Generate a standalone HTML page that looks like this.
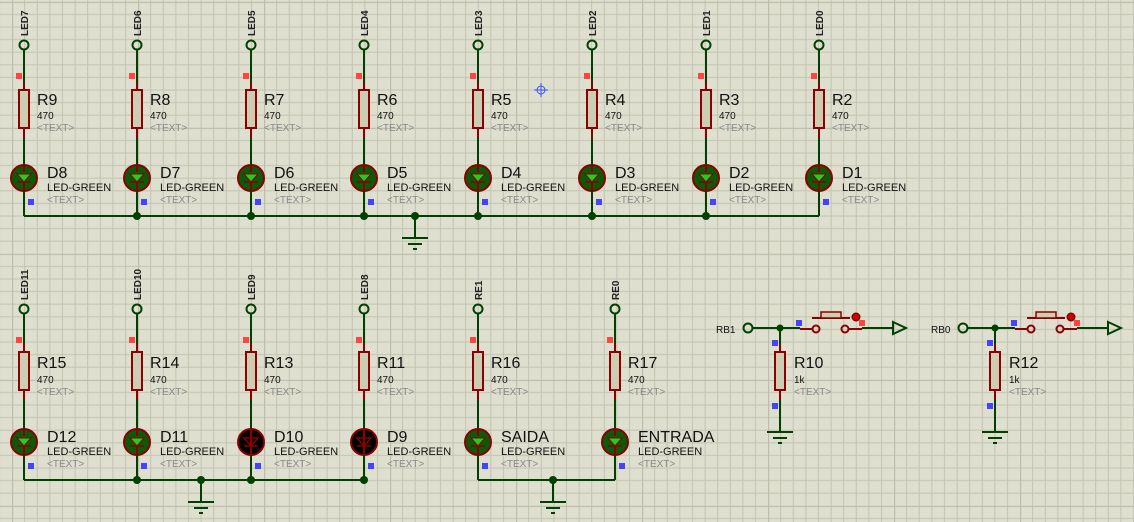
<!DOCTYPE html>
<html><head><style>
html,body{margin:0;padding:0;background:#dfdfd0;}
svg{display:block;font-family:"Liberation Sans",sans-serif;}
.w{stroke:#004000;stroke-width:2;fill:none}
.r{stroke:#8b0000;stroke-width:2;fill:none}
.t{fill:#888;font-size:10px}
.lg{font-size:11px;fill:#111}
</style></head><body>
<svg width="1134" height="522" viewBox="0 0 1134 522" xmlns="http://www.w3.org/2000/svg">
<defs>
<pattern id="g" x="12.1" y="1.8" width="126" height="126" patternUnits="userSpaceOnUse">
<path d="M12.6 0V126M25.2 0V126M37.8 0V126M50.4 0V126M63 0V126M75.6 0V126M88.2 0V126M100.8 0V126M113.4 0V126M0 12.6H126M0 25.2H126M0 37.8H126M0 50.4H126M0 63H126M0 75.6H126M0 88.2H126M0 100.8H126M0 113.4H126" stroke="#c3c3b1" stroke-width="1" fill="none"/>
<path d="M0 0H126M0 0V126" stroke="#bbbba9" stroke-width="2.2" fill="none"/>
</pattern>
<g id="res">
<line class="r" x1="0" y1="-8" x2="0" y2="0"/>
<rect x="-5" y="0" width="10" height="38" fill="#cdcdb3" stroke="#8b0000" stroke-width="2"/>
<line class="r" x1="0" y1="38" x2="0" y2="48"/>
</g>
<g id="ledg">
<circle r="13" fill="#0a5a0a" stroke="#8b0000" stroke-width="2"/>
<polygon points="-7,-4 7,-4 0,4" fill="#22cc22" stroke="#8b0000" stroke-width="1"/>
<line x1="-7" y1="4" x2="7" y2="4" stroke="#8b0000" stroke-width="1.5"/>
<line x1="0" y1="-13" x2="0" y2="-6" stroke="#8b0000" stroke-width="2"/>
<line x1="0" y1="4" x2="0" y2="13" stroke="#8b0000" stroke-width="2"/>
</g>
<g id="ledb">
<circle r="13" fill="#000" stroke="#8b0000" stroke-width="2"/>
<polygon points="-7,-4 7,-4 0,4" fill="#000" stroke="#8b0000" stroke-width="1.5"/>
<line x1="-7" y1="4" x2="7" y2="4" stroke="#8b0000" stroke-width="1.5"/>
<line x1="0" y1="-13" x2="0" y2="4" stroke="#8b0000" stroke-width="2"/>
<line x1="0" y1="4" x2="0" y2="13" stroke="#8b0000" stroke-width="2"/>
</g>
<g id="gnd">
<line class="w" x1="0" y1="0" x2="0" y2="22"/>
<line class="w" x1="-13" y1="22" x2="13" y2="22"/>
<line class="w" x1="-7" y1="28" x2="7" y2="28"/>
<line class="w" x1="-2" y1="33" x2="2" y2="33"/>
</g>
</defs>
<rect width="1134" height="522" fill="url(#g)"/>

<line class="w" x1="24" y1="216" x2="819" y2="216"/>
<g transform="translate(415,216)"><use href="#gnd"/><circle r="4" fill="#004000"/></g>

<g transform="translate(24,0)">
<text transform="translate(4,36) rotate(-90)" font-size="10" font-weight="bold" fill="#222">LED7</text>
<circle cx="0" cy="45" r="4.5" fill="none" stroke="#004000" stroke-width="2"/>
<line class="w" x1="0" y1="50" x2="0" y2="82"/><rect x="-8" y="73" width="6" height="6" fill="#f44"/>
<g transform="translate(0,90)"><use href="#res"/></g>
<line class="w" x1="0" y1="138" x2="0" y2="165"/>
<g transform="translate(0,178)"><use href="#ledg"/></g>
<line class="w" x1="0" y1="191" x2="0" y2="216"/><rect x="4" y="199" width="6" height="6" fill="#44f"/>
<text x="13" y="105" font-size="16" fill="#111">R9</text><text x="13" y="119" font-size="10" fill="#111">470</text><text x="13" y="131" class="t">&lt;TEXT&gt;</text>
<text x="23" y="178" font-size="16" fill="#111">D8</text><text x="23" y="191" class="lg">LED-GREEN</text><text x="23" y="203" class="t">&lt;TEXT&gt;</text>
</g>
<g transform="translate(137,0)">
<text transform="translate(4,36) rotate(-90)" font-size="10" font-weight="bold" fill="#222">LED6</text>
<circle cx="0" cy="45" r="4.5" fill="none" stroke="#004000" stroke-width="2"/>
<line class="w" x1="0" y1="50" x2="0" y2="82"/><rect x="-8" y="73" width="6" height="6" fill="#f44"/>
<g transform="translate(0,90)"><use href="#res"/></g>
<line class="w" x1="0" y1="138" x2="0" y2="165"/>
<g transform="translate(0,178)"><use href="#ledg"/></g>
<line class="w" x1="0" y1="191" x2="0" y2="216"/><rect x="4" y="199" width="6" height="6" fill="#44f"/><circle cy="216" r="4" fill="#004000"/>
<text x="13" y="105" font-size="16" fill="#111">R8</text><text x="13" y="119" font-size="10" fill="#111">470</text><text x="13" y="131" class="t">&lt;TEXT&gt;</text>
<text x="23" y="178" font-size="16" fill="#111">D7</text><text x="23" y="191" class="lg">LED-GREEN</text><text x="23" y="203" class="t">&lt;TEXT&gt;</text>
</g>
<g transform="translate(251,0)">
<text transform="translate(4,36) rotate(-90)" font-size="10" font-weight="bold" fill="#222">LED5</text>
<circle cx="0" cy="45" r="4.5" fill="none" stroke="#004000" stroke-width="2"/>
<line class="w" x1="0" y1="50" x2="0" y2="82"/><rect x="-8" y="73" width="6" height="6" fill="#f44"/>
<g transform="translate(0,90)"><use href="#res"/></g>
<line class="w" x1="0" y1="138" x2="0" y2="165"/>
<g transform="translate(0,178)"><use href="#ledg"/></g>
<line class="w" x1="0" y1="191" x2="0" y2="216"/><rect x="4" y="199" width="6" height="6" fill="#44f"/><circle cy="216" r="4" fill="#004000"/>
<text x="13" y="105" font-size="16" fill="#111">R7</text><text x="13" y="119" font-size="10" fill="#111">470</text><text x="13" y="131" class="t">&lt;TEXT&gt;</text>
<text x="23" y="178" font-size="16" fill="#111">D6</text><text x="23" y="191" class="lg">LED-GREEN</text><text x="23" y="203" class="t">&lt;TEXT&gt;</text>
</g>
<g transform="translate(364,0)">
<text transform="translate(4,36) rotate(-90)" font-size="10" font-weight="bold" fill="#222">LED4</text>
<circle cx="0" cy="45" r="4.5" fill="none" stroke="#004000" stroke-width="2"/>
<line class="w" x1="0" y1="50" x2="0" y2="82"/><rect x="-8" y="73" width="6" height="6" fill="#f44"/>
<g transform="translate(0,90)"><use href="#res"/></g>
<line class="w" x1="0" y1="138" x2="0" y2="165"/>
<g transform="translate(0,178)"><use href="#ledg"/></g>
<line class="w" x1="0" y1="191" x2="0" y2="216"/><rect x="4" y="199" width="6" height="6" fill="#44f"/><circle cy="216" r="4" fill="#004000"/>
<text x="13" y="105" font-size="16" fill="#111">R6</text><text x="13" y="119" font-size="10" fill="#111">470</text><text x="13" y="131" class="t">&lt;TEXT&gt;</text>
<text x="23" y="178" font-size="16" fill="#111">D5</text><text x="23" y="191" class="lg">LED-GREEN</text><text x="23" y="203" class="t">&lt;TEXT&gt;</text>
</g>
<g transform="translate(478,0)">
<text transform="translate(4,36) rotate(-90)" font-size="10" font-weight="bold" fill="#222">LED3</text>
<circle cx="0" cy="45" r="4.5" fill="none" stroke="#004000" stroke-width="2"/>
<line class="w" x1="0" y1="50" x2="0" y2="82"/><rect x="-8" y="73" width="6" height="6" fill="#f44"/>
<g transform="translate(0,90)"><use href="#res"/></g>
<line class="w" x1="0" y1="138" x2="0" y2="165"/>
<g transform="translate(0,178)"><use href="#ledg"/></g>
<line class="w" x1="0" y1="191" x2="0" y2="216"/><rect x="4" y="199" width="6" height="6" fill="#44f"/><circle cy="216" r="4" fill="#004000"/>
<text x="13" y="105" font-size="16" fill="#111">R5</text><text x="13" y="119" font-size="10" fill="#111">470</text><text x="13" y="131" class="t">&lt;TEXT&gt;</text>
<text x="23" y="178" font-size="16" fill="#111">D4</text><text x="23" y="191" class="lg">LED-GREEN</text><text x="23" y="203" class="t">&lt;TEXT&gt;</text>
</g>
<g transform="translate(592,0)">
<text transform="translate(4,36) rotate(-90)" font-size="10" font-weight="bold" fill="#222">LED2</text>
<circle cx="0" cy="45" r="4.5" fill="none" stroke="#004000" stroke-width="2"/>
<line class="w" x1="0" y1="50" x2="0" y2="82"/><rect x="-8" y="73" width="6" height="6" fill="#f44"/>
<g transform="translate(0,90)"><use href="#res"/></g>
<line class="w" x1="0" y1="138" x2="0" y2="165"/>
<g transform="translate(0,178)"><use href="#ledg"/></g>
<line class="w" x1="0" y1="191" x2="0" y2="216"/><rect x="4" y="199" width="6" height="6" fill="#44f"/><circle cy="216" r="4" fill="#004000"/>
<text x="13" y="105" font-size="16" fill="#111">R4</text><text x="13" y="119" font-size="10" fill="#111">470</text><text x="13" y="131" class="t">&lt;TEXT&gt;</text>
<text x="23" y="178" font-size="16" fill="#111">D3</text><text x="23" y="191" class="lg">LED-GREEN</text><text x="23" y="203" class="t">&lt;TEXT&gt;</text>
</g>
<g transform="translate(706,0)">
<text transform="translate(4,36) rotate(-90)" font-size="10" font-weight="bold" fill="#222">LED1</text>
<circle cx="0" cy="45" r="4.5" fill="none" stroke="#004000" stroke-width="2"/>
<line class="w" x1="0" y1="50" x2="0" y2="82"/><rect x="-8" y="73" width="6" height="6" fill="#f44"/>
<g transform="translate(0,90)"><use href="#res"/></g>
<line class="w" x1="0" y1="138" x2="0" y2="165"/>
<g transform="translate(0,178)"><use href="#ledg"/></g>
<line class="w" x1="0" y1="191" x2="0" y2="216"/><rect x="4" y="199" width="6" height="6" fill="#44f"/><circle cy="216" r="4" fill="#004000"/>
<text x="13" y="105" font-size="16" fill="#111">R3</text><text x="13" y="119" font-size="10" fill="#111">470</text><text x="13" y="131" class="t">&lt;TEXT&gt;</text>
<text x="23" y="178" font-size="16" fill="#111">D2</text><text x="23" y="191" class="lg">LED-GREEN</text><text x="23" y="203" class="t">&lt;TEXT&gt;</text>
</g>
<g transform="translate(819,0)">
<text transform="translate(4,36) rotate(-90)" font-size="10" font-weight="bold" fill="#222">LED0</text>
<circle cx="0" cy="45" r="4.5" fill="none" stroke="#004000" stroke-width="2"/>
<line class="w" x1="0" y1="50" x2="0" y2="82"/><rect x="-8" y="73" width="6" height="6" fill="#f44"/>
<g transform="translate(0,90)"><use href="#res"/></g>
<line class="w" x1="0" y1="138" x2="0" y2="165"/>
<g transform="translate(0,178)"><use href="#ledg"/></g>
<line class="w" x1="0" y1="191" x2="0" y2="216"/><rect x="4" y="199" width="6" height="6" fill="#44f"/>
<text x="13" y="105" font-size="16" fill="#111">R2</text><text x="13" y="119" font-size="10" fill="#111">470</text><text x="13" y="131" class="t">&lt;TEXT&gt;</text>
<text x="23" y="178" font-size="16" fill="#111">D1</text><text x="23" y="191" class="lg">LED-GREEN</text><text x="23" y="203" class="t">&lt;TEXT&gt;</text>
</g>
<g stroke="#3355ff" stroke-width="1" fill="none"><circle cx="541" cy="90" r="4"/><line x1="534" y1="90" x2="548" y2="90"/><line x1="541" y1="83" x2="541" y2="97"/></g>

<line class="w" x1="24" y1="480" x2="364" y2="480"/>
<line class="w" x1="478" y1="480" x2="615" y2="480"/>
<g transform="translate(201,480)"><use href="#gnd"/><circle r="4" fill="#004000"/></g>
<g transform="translate(553,480)"><use href="#gnd"/><circle r="4" fill="#004000"/></g>

<g transform="translate(24,264)">
<text transform="translate(4,36) rotate(-90)" font-size="10" font-weight="bold" fill="#222">LED11</text>
<circle cx="0" cy="45" r="4.5" fill="none" stroke="#004000" stroke-width="2"/>
<line class="w" x1="0" y1="50" x2="0" y2="80"/><rect x="-8" y="73" width="6" height="6" fill="#f44"/>
<g transform="translate(0,88)"><use href="#res"/></g>
<line class="w" x1="0" y1="136" x2="0" y2="165"/>
<g transform="translate(0,178)"><use href="#ledg"/></g>
<line class="w" x1="0" y1="191" x2="0" y2="216"/><rect x="4" y="199" width="6" height="6" fill="#44f"/>
<text x="13" y="104" font-size="16" fill="#111">R15</text><text x="13" y="119" font-size="10" fill="#111">470</text><text x="13" y="131" class="t">&lt;TEXT&gt;</text>
<text x="23" y="178" font-size="16" fill="#111">D12</text><text x="23" y="191" class="lg">LED-GREEN</text><text x="23" y="203" class="t">&lt;TEXT&gt;</text>
</g>
<g transform="translate(137,264)">
<text transform="translate(4,36) rotate(-90)" font-size="10" font-weight="bold" fill="#222">LED10</text>
<circle cx="0" cy="45" r="4.5" fill="none" stroke="#004000" stroke-width="2"/>
<line class="w" x1="0" y1="50" x2="0" y2="80"/><rect x="-8" y="73" width="6" height="6" fill="#f44"/>
<g transform="translate(0,88)"><use href="#res"/></g>
<line class="w" x1="0" y1="136" x2="0" y2="165"/>
<g transform="translate(0,178)"><use href="#ledg"/></g>
<line class="w" x1="0" y1="191" x2="0" y2="216"/><rect x="4" y="199" width="6" height="6" fill="#44f"/><circle cy="216" r="4" fill="#004000"/>
<text x="13" y="104" font-size="16" fill="#111">R14</text><text x="13" y="119" font-size="10" fill="#111">470</text><text x="13" y="131" class="t">&lt;TEXT&gt;</text>
<text x="23" y="178" font-size="16" fill="#111">D11</text><text x="23" y="191" class="lg">LED-GREEN</text><text x="23" y="203" class="t">&lt;TEXT&gt;</text>
</g>
<g transform="translate(251,264)">
<text transform="translate(4,36) rotate(-90)" font-size="10" font-weight="bold" fill="#222">LED9</text>
<circle cx="0" cy="45" r="4.5" fill="none" stroke="#004000" stroke-width="2"/>
<line class="w" x1="0" y1="50" x2="0" y2="80"/><rect x="-8" y="73" width="6" height="6" fill="#f44"/>
<g transform="translate(0,88)"><use href="#res"/></g>
<line class="w" x1="0" y1="136" x2="0" y2="165"/>
<g transform="translate(0,178)"><use href="#ledb"/></g>
<line class="w" x1="0" y1="191" x2="0" y2="216"/><rect x="4" y="199" width="6" height="6" fill="#44f"/><circle cy="216" r="4" fill="#004000"/>
<text x="13" y="104" font-size="16" fill="#111">R13</text><text x="13" y="119" font-size="10" fill="#111">470</text><text x="13" y="131" class="t">&lt;TEXT&gt;</text>
<text x="23" y="178" font-size="16" fill="#111">D10</text><text x="23" y="191" class="lg">LED-GREEN</text><text x="23" y="203" class="t">&lt;TEXT&gt;</text>
</g>
<g transform="translate(364,264)">
<text transform="translate(4,36) rotate(-90)" font-size="10" font-weight="bold" fill="#222">LED8</text>
<circle cx="0" cy="45" r="4.5" fill="none" stroke="#004000" stroke-width="2"/>
<line class="w" x1="0" y1="50" x2="0" y2="80"/><rect x="-8" y="73" width="6" height="6" fill="#f44"/>
<g transform="translate(0,88)"><use href="#res"/></g>
<line class="w" x1="0" y1="136" x2="0" y2="165"/>
<g transform="translate(0,178)"><use href="#ledb"/></g>
<line class="w" x1="0" y1="191" x2="0" y2="216"/><rect x="4" y="199" width="6" height="6" fill="#44f"/><circle cy="216" r="4" fill="#004000"/>
<text x="13" y="104" font-size="16" fill="#111">R11</text><text x="13" y="119" font-size="10" fill="#111">470</text><text x="13" y="131" class="t">&lt;TEXT&gt;</text>
<text x="23" y="178" font-size="16" fill="#111">D9</text><text x="23" y="191" class="lg">LED-GREEN</text><text x="23" y="203" class="t">&lt;TEXT&gt;</text>
</g>
<g transform="translate(478,264)">
<text transform="translate(4,36) rotate(-90)" font-size="10" font-weight="bold" fill="#222">RE1</text>
<circle cx="0" cy="45" r="4.5" fill="none" stroke="#004000" stroke-width="2"/>
<line class="w" x1="0" y1="50" x2="0" y2="80"/><rect x="-8" y="73" width="6" height="6" fill="#f44"/>
<g transform="translate(0,88)"><use href="#res"/></g>
<line class="w" x1="0" y1="136" x2="0" y2="165"/>
<g transform="translate(0,178)"><use href="#ledg"/></g>
<line class="w" x1="0" y1="191" x2="0" y2="216"/><rect x="4" y="199" width="6" height="6" fill="#44f"/>
<text x="13" y="104" font-size="16" fill="#111">R16</text><text x="13" y="119" font-size="10" fill="#111">470</text><text x="13" y="131" class="t">&lt;TEXT&gt;</text>
<text x="23" y="178" font-size="16" fill="#111">SAIDA</text><text x="23" y="191" class="lg">LED-GREEN</text><text x="23" y="203" class="t">&lt;TEXT&gt;</text>
</g>
<g transform="translate(615,264)">
<text transform="translate(4,36) rotate(-90)" font-size="10" font-weight="bold" fill="#222">RE0</text>
<circle cx="0" cy="45" r="4.5" fill="none" stroke="#004000" stroke-width="2"/>
<line class="w" x1="0" y1="50" x2="0" y2="80"/><rect x="-8" y="73" width="6" height="6" fill="#f44"/>
<g transform="translate(0,88)"><use href="#res"/></g>
<line class="w" x1="0" y1="136" x2="0" y2="165"/>
<g transform="translate(0,178)"><use href="#ledg"/></g>
<line class="w" x1="0" y1="191" x2="0" y2="216"/><rect x="4" y="199" width="6" height="6" fill="#44f"/>
<text x="13" y="104" font-size="16" fill="#111">R17</text><text x="13" y="119" font-size="10" fill="#111">470</text><text x="13" y="131" class="t">&lt;TEXT&gt;</text>
<text x="23" y="178" font-size="16" fill="#111">ENTRADA</text><text x="23" y="191" class="lg">LED-GREEN</text><text x="23" y="203" class="t">&lt;TEXT&gt;</text>
</g>

<g>
<text x="716" y="333" font-size="10" fill="#111">RB1</text>
<circle cx="748" cy="328" r="4.5" fill="none" stroke="#004000" stroke-width="2"/>
<line class="w" x1="753" y1="328" x2="800" y2="328"/>
<circle cx="780" cy="328" r="3.5" fill="#004000"/>
<line class="r" x1="800" y1="329" x2="812" y2="329"/>
<circle cx="816" cy="329" r="3.5" fill="none" stroke="#8b0000" stroke-width="2"/>
<circle cx="845" cy="329" r="3.5" fill="none" stroke="#8b0000" stroke-width="2"/>
<line class="r" x1="812" y1="318" x2="850" y2="318"/>
<rect x="821" y="312" width="20" height="6" fill="#cdcdb3" stroke="#8b0000" stroke-width="1.5"/>
<circle cx="856" cy="317" r="4" fill="#c00" stroke="#600" stroke-width="1"/>
<rect x="859" y="320" width="6" height="6" fill="#f44"/>
<line class="r" x1="849" y1="329" x2="862" y2="329"/>
<line class="w" x1="862" y1="328" x2="893" y2="328"/>
<polygon points="893,322 906,328 893,334" fill="none" stroke="#004000" stroke-width="2"/>
<rect x="796" y="320" width="6" height="6" fill="#44f"/>
<rect x="772" y="340" width="6" height="6" fill="#44f"/>
<line class="w" x1="780" y1="328" x2="780" y2="344"/>
<g transform="translate(780,352)"><use href="#res"/></g>
<rect x="772" y="403" width="6" height="6" fill="#44f"/>
<line class="w" x1="780" y1="400" x2="780" y2="410"/>
<g transform="translate(780,410)"><use href="#gnd"/></g>
<text x="794" y="368" font-size="16" fill="#111">R10</text><text x="794" y="383" font-size="10" fill="#111">1k</text><text x="794" y="395" class="t">&lt;TEXT&gt;</text>
</g>
<g transform="translate(215,0)">
<text x="716" y="333" font-size="10" fill="#111">RB0</text>
<circle cx="748" cy="328" r="4.5" fill="none" stroke="#004000" stroke-width="2"/>
<line class="w" x1="753" y1="328" x2="800" y2="328"/>
<circle cx="780" cy="328" r="3.5" fill="#004000"/>
<line class="r" x1="800" y1="329" x2="812" y2="329"/>
<circle cx="816" cy="329" r="3.5" fill="none" stroke="#8b0000" stroke-width="2"/>
<circle cx="845" cy="329" r="3.5" fill="none" stroke="#8b0000" stroke-width="2"/>
<line class="r" x1="812" y1="318" x2="850" y2="318"/>
<rect x="821" y="312" width="20" height="6" fill="#cdcdb3" stroke="#8b0000" stroke-width="1.5"/>
<circle cx="856" cy="317" r="4" fill="#c00" stroke="#600" stroke-width="1"/>
<rect x="859" y="320" width="6" height="6" fill="#f44"/>
<line class="r" x1="849" y1="329" x2="862" y2="329"/>
<line class="w" x1="862" y1="328" x2="893" y2="328"/>
<polygon points="893,322 906,328 893,334" fill="none" stroke="#004000" stroke-width="2"/>
<rect x="796" y="320" width="6" height="6" fill="#44f"/>
<rect x="772" y="340" width="6" height="6" fill="#44f"/>
<line class="w" x1="780" y1="328" x2="780" y2="344"/>
<g transform="translate(780,352)"><use href="#res"/></g>
<rect x="772" y="403" width="6" height="6" fill="#44f"/>
<line class="w" x1="780" y1="400" x2="780" y2="410"/>
<g transform="translate(780,410)"><use href="#gnd"/></g>
<text x="794" y="368" font-size="16" fill="#111">R12</text><text x="794" y="383" font-size="10" fill="#111">1k</text><text x="794" y="395" class="t">&lt;TEXT&gt;</text>
</g>
</svg>
</body></html>
